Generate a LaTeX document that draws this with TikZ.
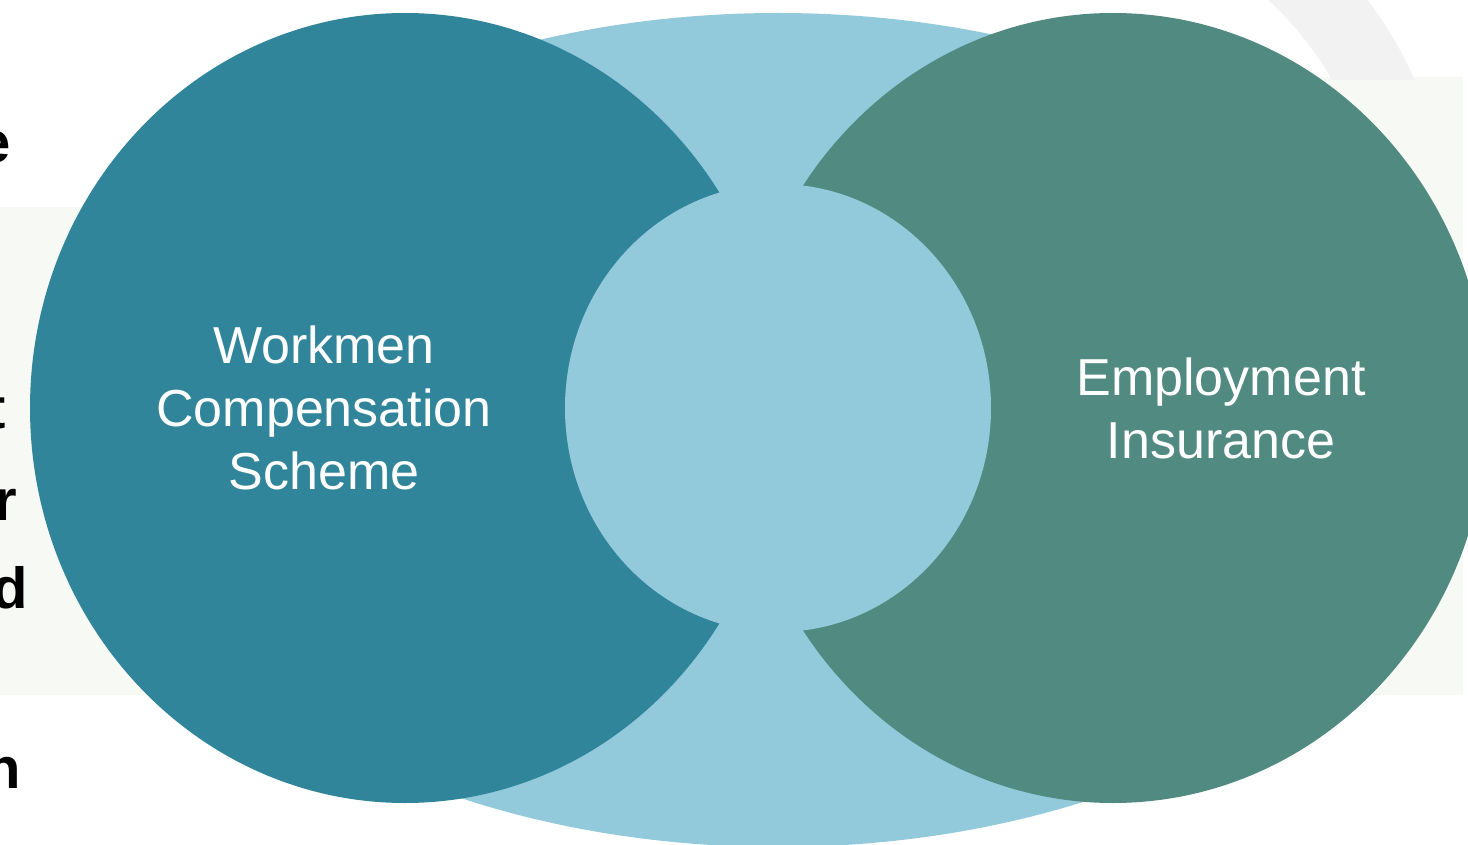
\documentclass[tikz,border=0pt]{standalone}
\usepackage{fontspec}
\setmainfont{Liberation Sans}
\usetikzlibrary{shapes.geometric}
\definecolor{wcsteal}{HTML}{31859A}
\definecolor{eigreen}{HTML}{508A80}
\definecolor{overlapblue}{HTML}{93CADB}
\definecolor{panelgrey}{HTML}{F7F9F5}
\definecolor{markgrey}{HTML}{F2F2F2}
\tikzstyle{blob}=[ellipse, draw=none, inner sep=0, outer sep=0]
\tikzstyle{caption}=[text=white, align=center, inner sep=0,
                     font=\fontsize{52}{63}\selectfont]
\tikzstyle{edgeletter}=[anchor=base east, inner sep=0,
                        font=\bfseries\fontsize{58}{58}\selectfont]

\begin{document}
\begin{tikzpicture}[x=1pt, y=-1pt]
    \useasboundingbox (0,0) rectangle (1468,845);
    \clip (0,0) rectangle (1468,845);
    % Faint slide background behind the diagram.
    \fill[panelgrey] (0,207) rectangle (400,695);
    \fill[panelgrey] (1200,77) rectangle (1463,695);
    \begin{scope}
        \clip (1080,0) rectangle (1468,80);
        \fill[markgrey, even odd rule] (1045,243) circle (404) (1045,243) circle (330);
    \end{scope}
    % Cut-off letters at the left edge.
    \node[edgeletter] (le) at (11,163) {e};
    \node[edgeletter] (lt) at (6,428) {t};
    \node[edgeletter] (lr) at (17,520) {r};
    \node[edgeletter] (ld) at (28,608) {d};
    \node[edgeletter] (ln) at (21,788) {n};
    % The two schemes and their overlap.
    \node[blob, fill=overlapblue, minimum width=1348, minimum height=834] (halo) at (778,430) {};
    \node[blob, fill=wcsteal, minimum width=750, minimum height=790] (wcs) at (405,408) {};
    \node[blob, fill=eigreen, minimum width=750, minimum height=790] (ei) at (1113,408) {};
    \node[blob, fill=overlapblue, minimum width=426, minimum height=448] (core) at (778,408) {};
    \node[caption] (wcslabel) at (324,408) {Workmen\\Compensation\\Scheme};
    \node[caption] (eilabel) at (1221,408) {Employment\\Insurance};
\end{tikzpicture}
\end{document}
